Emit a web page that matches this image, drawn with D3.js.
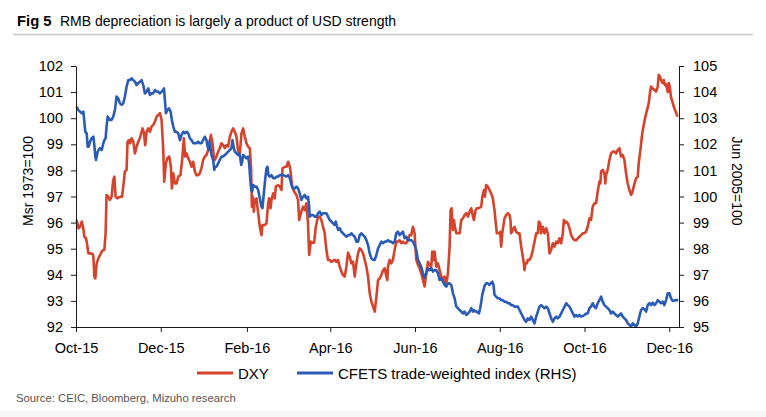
<!DOCTYPE html>
<html><head><meta charset="utf-8">
<script src="https://cdn.jsdelivr.net/npm/d3@7"></script>
<style>
body{margin:0;background:#fff;}
svg{display:block;font-family:"Liberation Sans",Arial,Helvetica,sans-serif;}
</style></head><body>
<svg id="chart" width="766" height="417"></svg>
<script>
// ---------- data ----------
const startDate = "2015-10-01";
const endDate = "2016-12-08";
const xTickDates = ["2015-10-01","2015-12-01","2016-02-01","2016-04-01","2016-06-01","2016-08-01","2016-10-01","2016-12-01"];
const xTickLabels = ["Oct-15","Dec-15","Feb-16","Apr-16","Jun-16","Aug-16","Oct-16","Dec-16"];
const leftTicks = [92,93,94,95,96,97,98,99,100,101,102];
const rightTicks = [95,96,97,98,99,100,101,102,103,104,105];
const seriesNames = ["DXY","CFETS trade-weighted index (RHS)"];
// [days since startDate, value]
const dxy = [
[0.5,96.10],[1.7,95.78],[2.9,95.84],[4.1,96.04],[5.3,95.78],[6.0,95.46],[7.2,95.40],[7.7,95.27],[8.9,94.82],[10.1,94.82],[12.0,94.80],[12.5,94.69],[13.2,93.93],[13.9,93.86],[14.9,94.44],[16.1,94.63],[17.3,94.76],[18.5,94.89],[19.7,94.95],[20.4,94.95],[21.3,95.59],[22.0,97.06],[23.2,96.99],[24.4,96.87],[25.6,96.99],[26.8,97.63],[27.6,97.76],[28.5,96.99],[29.7,96.93],[31.6,96.99],[33.1,96.99],[34.0,97.38],[35.2,97.95],[36.4,98.02],[37.1,99.10],[38.1,99.16],[38.8,99.04],[40.0,99.23],[41.2,99.10],[42.4,98.65],[43.6,98.91],[44.8,99.10],[46.0,99.23],[47.2,99.48],[47.9,99.61],[48.9,99.42],[49.8,98.97],[50.8,99.48],[52.0,99.61],[53.2,99.48],[54.4,99.68],[55.6,99.74],[56.8,99.87],[58.0,100.06],[59.2,100.12],[60.4,100.19],[61.6,99.93],[62.8,98.78],[63.5,97.57],[64.7,98.27],[65.7,98.46],[67.1,98.53],[68.3,98.14],[69.0,97.31],[70.0,97.89],[71.2,97.50],[72.4,97.50],[73.6,97.76],[75.2,97.82],[76.4,98.40],[77.6,99.23],[78.6,98.53],[79.6,98.65],[80.8,98.46],[82.0,98.33],[83.2,98.14],[84.4,98.33],[85.6,97.95],[86.7,97.82],[87.9,97.82],[89.1,97.89],[90.3,98.08],[91.5,98.40],[92.7,98.53],[93.9,98.59],[95.1,98.78],[96.3,99.16],[97.1,99.36],[98.3,99.04],[99.2,98.53],[99.9,98.40],[101.1,98.53],[102.3,98.72],[103.5,98.85],[104.7,99.04],[105.9,98.97],[107.1,98.85],[108.3,98.97],[109.5,98.91],[110.7,99.29],[111.9,99.48],[113.1,99.61],[114.3,99.48],[115.5,99.29],[116.7,98.72],[117.9,98.65],[119.1,99.42],[120.3,99.61],[121.5,99.29],[122.7,99.04],[123.9,98.91],[125.1,98.85],[126.0,98.10],[126.6,96.61],[127.2,96.99],[128.0,96.42],[128.7,96.87],[129.9,96.93],[131.1,96.36],[132.3,95.84],[133.5,95.52],[134.2,95.91],[135.9,95.91],[137.1,95.97],[138.3,96.74],[139.0,96.93],[140.0,96.55],[140.7,96.87],[141.9,97.12],[143.1,96.93],[143.8,97.38],[145.5,97.44],[146.7,97.38],[147.9,97.25],[148.6,98.08],[150.3,98.14],[151.5,98.14],[152.7,98.33],[153.9,98.14],[154.6,97.89],[155.5,97.38],[157.0,97.19],[158.6,97.06],[159.8,96.87],[160.6,96.10],[161.5,96.29],[162.2,96.42],[163.4,96.61],[164.6,96.48],[165.8,96.74],[167.0,95.97],[167.8,94.76],[169.0,95.27],[170.2,95.23],[171.4,95.23],[172.6,95.84],[174.2,96.23],[175.4,96.23],[176.6,96.10],[177.8,95.84],[179.0,95.59],[180.2,94.95],[181.4,94.57],[182.6,94.57],[183.8,94.50],[186.2,94.57],[187.4,94.50],[188.6,94.57],[189.8,94.31],[191.0,94.12],[192.2,93.99],[193.4,93.93],[194.6,94.31],[195.8,94.85],[197.0,94.69],[198.2,94.44],[199.4,94.50],[200.6,93.93],[201.8,94.44],[203.0,94.82],[204.2,95.01],[205.4,94.95],[206.6,94.82],[207.8,94.57],[209.0,94.31],[210.2,93.93],[211.4,93.29],[212.6,92.97],[213.8,92.78],[215.0,92.59],[216.2,93.16],[217.4,93.80],[218.6,93.86],[219.8,93.99],[221.0,94.18],[222.2,94.25],[223.4,93.93],[224.1,93.80],[224.5,94.31],[225.7,94.57],[226.9,94.44],[228.1,94.57],[229.3,94.95],[230.5,95.27],[231.7,95.27],[232.9,95.33],[234.1,95.21],[235.3,95.27],[236.5,95.21],[237.7,95.21],[238.9,95.33],[240.1,95.52],[241.3,95.52],[242.5,95.84],[243.7,95.59],[244.9,94.57],[246.1,94.38],[247.3,94.25],[248.5,94.06],[249.7,93.80],[250.9,93.55],[252.1,94.06],[253.3,94.50],[254.5,94.38],[255.7,94.31],[256.4,94.89],[257.4,94.57],[258.1,94.89],[259.3,94.31],[260.5,94.44],
[261.7,94.18],[262.9,93.93],[264.1,93.80],[265.3,93.93],[266.0,93.67],[267.0,93.80],[267.7,94.06],[268.9,95.08],[269.6,96.48],[270.3,96.55],[271.3,95.72],[272.0,96.10],[272.7,95.84],[273.7,95.59],[274.9,95.59],[276.1,95.59],[277.3,96.10],[278.5,96.16],[279.7,96.29],[280.9,96.36],[282.1,96.23],[283.3,96.42],[284.5,96.55],[285.7,96.23],[286.4,96.10],[287.6,96.48],[288.5,96.55],[290.0,96.55],[291.7,96.61],[292.4,96.99],[293.6,97.25],[294.3,96.99],[295.2,97.44],[296.4,97.38],[297.6,97.25],[298.8,97.12],[300.0,96.93],[301.2,96.48],[301.9,96.10],[302.9,95.59],[304.4,95.59],[305.3,95.65],[306.0,95.08],[306.8,95.59],[308.4,96.16],[309.6,96.29],[310.8,96.36],[312.0,96.29],[312.7,96.10],[313.2,95.59],[314.4,95.72],[315.6,95.84],[316.8,95.65],[318.0,95.59],[319.2,95.59],[320.4,95.08],[321.6,94.69],[322.3,94.44],[322.8,94.18],[323.5,94.44],[324.5,94.44],[325.2,94.57],[326.4,94.57],[327.6,94.69],[328.8,94.95],[330.0,95.27],[331.2,95.59],[332.4,95.59],[333.1,96.04],[334.1,95.97],[334.8,95.59],[336.0,95.84],[337.2,95.59],[338.4,95.78],[339.6,95.59],[340.8,94.82],[342.0,94.95],[343.2,95.21],[344.4,95.08],[345.6,95.27],[346.8,95.21],[348.0,95.40],[349.2,95.21],[350.4,95.59],[351.1,96.10],[351.8,95.97],[352.8,96.04],[354.0,95.97],[355.2,95.78],[356.4,95.52],[357.6,95.40],[358.8,95.33],[360.0,95.33],[361.2,95.40],[362.3,95.46],[363.5,95.52],[364.7,95.59],[365.9,95.59],[367.1,95.65],[368.3,95.84],[369.5,96.16],[370.7,96.10],[371.9,96.61],[373.1,96.74],[374.3,96.74],[375.5,97.19],[376.7,97.57],[377.4,97.50],[377.9,97.95],[379.1,98.02],[380.3,97.89],[381.0,97.50],[381.5,97.82],[382.7,98.02],[383.9,98.40],[385.1,98.65],[386.3,98.72],[387.5,98.72],[388.7,98.65],[389.9,98.78],[391.1,98.85],[392.3,98.53],[393.5,98.59],[394.7,98.40],[395.9,97.89],[397.1,97.50],[398.3,97.25],[399.5,97.06],[400.2,97.12],[401.4,97.38],[403.1,97.70],[404.3,97.76],[405.0,98.27],[406.2,98.78],[407.4,99.36],[408.6,99.74],[409.8,100.06],[411.0,100.31],[412.2,100.57],[413.2,101.02],[413.9,101.21],[415.1,101.14],[416.3,101.08],[417.5,101.02],[418.7,101.21],[419.4,101.66],[420.3,101.59],[421.1,101.46],[422.3,101.34],[423.0,101.46],[423.9,101.27],[424.7,101.30],[425.9,101.00],[426.6,101.35],[427.4,101.20],[428.2,100.82],[430.6,100.39],[433.0,100.06]
];
const cfets = [
[0.5,103.44],[1.7,103.31],[2.9,103.25],[4.1,103.19],[5.3,103.25],[6.0,102.87],[6.7,102.48],[7.7,102.42],[8.4,101.91],[9.1,101.91],[10.1,102.10],[11.3,102.23],[12.5,102.29],[13.2,101.97],[13.9,101.53],[14.4,101.40],[15.3,101.65],[16.1,101.78],[17.3,101.85],[18.5,101.78],[19.7,102.04],[20.4,102.16],[21.3,102.23],[22.0,102.68],[22.8,103.06],[23.7,102.99],[24.4,102.93],[25.6,102.93],[26.8,103.06],[28.0,103.31],[29.2,103.83],[30.4,103.76],[31.6,103.57],[32.8,103.51],[34.0,103.57],[35.2,103.83],[36.4,104.21],[37.6,104.46],[38.8,104.46],[40.0,104.53],[41.2,104.46],[42.4,104.40],[43.6,104.27],[44.8,104.34],[46.0,104.40],[47.2,104.46],[48.4,104.27],[49.6,103.95],[50.8,104.02],[52.0,104.14],[53.2,103.89],[54.4,103.95],[55.6,103.95],[56.8,104.08],[58.0,104.02],[59.2,104.02],[60.4,103.95],[61.6,104.02],[62.8,104.08],[63.3,104.14],[64.2,103.57],[64.7,103.19],[65.7,103.31],[66.9,103.38],[68.1,103.25],[69.0,102.93],[70.0,102.68],[71.2,102.48],[72.4,102.48],[73.6,102.42],[74.8,102.16],[76.0,102.36],[77.2,102.48],[78.4,102.42],[79.6,102.48],[80.8,102.42],[82.0,102.23],[83.2,102.16],[84.4,102.04],[85.6,102.04],[86.7,102.04],[87.9,102.10],[89.1,102.04],[90.3,102.04],[91.5,102.16],[92.7,102.29],[93.9,102.16],[94.7,101.91],[95.6,101.78],[96.3,102.10],[97.5,101.59],[98.7,101.40],[99.5,101.02],[100.2,101.14],[101.1,101.14],[102.3,101.27],[103.5,101.40],[104.7,101.53],[105.9,101.53],[107.1,101.59],[108.3,101.65],[109.5,101.72],[110.7,101.78],[111.9,101.85],[112.6,102.16],[113.6,101.85],[114.3,101.72],[115.5,101.65],[116.7,101.59],[117.4,101.65],[118.1,101.53],[118.9,101.21],[119.6,101.34],[120.3,101.59],[121.5,101.53],[122.7,101.46],[123.9,101.53],[124.6,101.27],[125.3,100.76],[126.1,100.25],[126.8,100.19],[127.5,100.44],[128.7,100.38],[129.9,100.38],[131.1,100.25],[132.3,99.93],[133.5,99.61],[134.2,99.55],[135.2,100.12],[136.1,100.63],[137.1,101.08],[137.8,101.14],[138.5,100.82],[139.5,100.76],[140.7,100.82],[141.9,100.70],[143.1,100.70],[144.3,100.76],[145.5,100.76],[146.7,100.82],[147.9,100.82],[149.1,100.82],[150.3,100.79],[151.5,100.76],[152.7,100.82],[153.9,100.70],[155.1,100.44],[156.3,100.31],[157.5,100.31],[158.6,100.38],[159.8,100.31],[161.0,100.12],[162.2,99.87],[163.4,99.99],[164.6,100.06],[165.8,99.93],[167.0,99.99],[167.8,99.61],[168.2,99.23],[169.4,99.29],[170.6,99.29],[171.8,99.23],[173.0,99.23],[174.2,99.36],[175.4,99.42],[176.6,99.29],[177.8,99.36],[179.0,99.36],[180.2,99.36],[181.4,99.23],[182.6,99.10],[183.8,99.04],[185.0,98.97],[186.2,98.91],[186.9,99.04],[187.9,98.84],[188.8,98.72],[189.8,98.78],[191.0,98.65],[192.2,98.59],[193.4,98.52],[194.6,98.46],[195.8,98.52],[197.0,98.52],[198.2,98.59],[199.4,98.52],[200.6,98.46],[201.8,98.27],[203.0,98.27],[204.2,98.52],[205.4,98.59],[206.6,98.52],[207.8,98.46],[209.0,98.33],[210.2,98.14],[211.4,97.82],[212.6,97.63],[213.8,97.57],[215.0,97.57],[216.2,97.76],[217.4,98.01],[218.6,98.14],[219.8,98.27],[221.0,98.21],[222.2,98.27],[223.4,98.27],[224.5,98.33],[225.7,98.27],[226.9,98.27],[228.1,98.21],[229.3,98.27],[230.5,98.59],[231.7,98.65],[232.9,98.52],[234.1,98.59],[235.3,98.65],[236.5,98.40],[237.7,98.46],[238.9,98.33],[240.1,98.33],[241.3,98.33],[242.5,98.27],[243.7,98.14],[244.9,97.95],[246.1,97.57],[247.3,97.44],[248.5,97.31],[249.7,97.06],[250.9,96.88],[252.1,97.06],[253.3,97.25],[254.5,97.18],[255.7,97.25],[256.9,97.12],[258.1,97.18],[259.3,97.18],[260.5,97.06],
[261.7,96.80],[262.9,96.86],[264.1,96.74],[265.3,96.61],[266.5,96.55],[267.7,96.67],[268.9,96.67],[270.1,96.61],[271.3,96.29],[272.5,96.10],[273.7,95.78],[274.9,95.72],[276.1,95.65],[277.3,95.59],[278.5,95.52],[279.7,95.59],[280.9,95.46],[282.1,95.52],[283.3,95.59],[284.5,95.72],[285.7,95.59],[286.4,95.65],[287.6,95.59],[288.5,95.59],[290.0,95.52],[290.9,95.72],[291.7,95.97],[292.4,96.23],[293.6,96.48],[294.3,96.61],[295.2,96.67],[296.4,96.67],[297.6,96.61],[298.8,96.70],[299.6,96.74],[300.5,96.61],[301.2,96.23],[302.4,96.16],[303.6,96.10],[304.8,96.10],[306.0,96.03],[307.2,96.03],[308.4,95.97],[309.6,95.97],[310.8,95.91],[312.0,95.91],[313.2,95.84],[314.4,95.84],[315.6,95.78],[316.8,95.78],[318.0,95.78],[319.2,95.65],[320.4,95.52],[321.6,95.40],[322.8,95.27],[324.0,95.20],[325.2,95.33],[326.4,95.27],[327.6,95.40],[328.8,95.27],[330.0,95.14],[331.2,95.40],[332.4,95.59],[333.6,95.78],[334.8,95.84],[336.0,95.78],[337.2,95.72],[338.4,95.78],[339.6,95.72],[340.8,95.52],[342.0,95.33],[343.2,95.20],[344.4,95.33],[345.6,95.40],[346.8,95.33],[348.0,95.40],[349.2,95.52],[350.4,95.65],[351.6,95.78],[352.8,95.91],[354.0,95.84],[355.2,95.78],[356.4,95.65],[357.6,95.52],[358.8,95.40],[360.0,95.46],[361.2,95.40],[362.3,95.46],[363.5,95.40],[364.7,95.42],[365.9,95.46],[367.1,95.52],[368.3,95.52],[369.5,95.72],[370.7,95.78],[371.9,95.91],[373.1,95.78],[374.3,95.72],[375.5,95.91],[376.7,96.03],[377.9,96.16],[379.1,95.97],[380.3,95.84],[381.5,95.78],[382.7,95.72],[383.9,95.65],[385.1,95.52],[386.3,95.59],[387.5,95.52],[388.7,95.46],[389.9,95.40],[391.1,95.46],[392.3,95.52],[393.5,95.40],[394.7,95.33],[395.9,95.27],[397.1,95.14],[398.3,95.08],[399.5,95.01],[400.7,95.14],[401.9,95.08],[403.1,95.01],[404.3,95.14],[405.5,95.40],[406.7,95.65],[407.9,95.72],[409.1,95.68],[410.3,95.59],[411.5,95.84],[412.7,95.91],[413.9,95.84],[415.1,95.93],[416.3,95.84],[417.5,95.91],[418.7,96.03],[419.9,95.97],[421.1,95.91],[422.3,95.97],[423.5,95.84],[424.7,96.03],[425.9,96.29],[427.1,96.29],[428.2,96.11],[429.4,96.00],[431.8,96.03],[433.5,96.03]
];

// ---------- drawing ----------
const svg = d3.select("#chart");
const W = 766, H = 417;
const margin = {left: 76, right: 87, top: 66, bottom: 90};
const plotL = margin.left, plotR = W - margin.right, plotT = margin.top, plotB = H - margin.bottom;
const parse = d3.utcParse("%Y-%m-%d");
const t0 = parse(startDate);
const toDate = d => new Date(t0.getTime() + d * 864e5);

const x = d3.scaleUtc().domain([t0, parse(endDate)]).range([plotL, plotR]);
const yL = d3.scaleLinear().domain([92, 102]).range([plotB, plotT]);
const yR = d3.scaleLinear().domain([95, 105]).range([plotB, plotT]);

const red = "#d6432c", blue = "#2a5cb7", axisCol = "#1a1a1a";
const font = "14.5px";

// background bits
svg.append("rect").attr("x",0).attr("y",0).attr("width",W).attr("height",H).attr("fill","#fff");
svg.append("rect").attr("x",0).attr("y",411).attr("width",W).attr("height",6).attr("fill","#f6f6f6");

// title
const title = svg.append("text").attr("x",17).attr("y",26).attr("font-size","14px").attr("fill","#000");
title.append("tspan").attr("font-weight","bold").attr("font-size","14.8px").text("Fig 5");
title.append("tspan").attr("x",60).text("RMB depreciation is largely a product of USD strength");
svg.append("line").attr("x1",13).attr("x2",753).attr("y1",34.5).attr("y2",34.5).attr("stroke","#d4d4d4").attr("stroke-width",2);

// lines
const lineL = d3.line().x(d => x(toDate(d[0]))).y(d => yL(d[1]));
const lineR = d3.line().x(d => x(toDate(d[0]))).y(d => yR(d[1]));
svg.append("path").datum(dxy).attr("d", lineL).attr("fill","none").attr("stroke",red).attr("stroke-width",2.6).attr("stroke-linejoin","round");
svg.append("path").datum(cfets).attr("d", lineR).attr("fill","none").attr("stroke",blue).attr("stroke-width",2.6).attr("stroke-linejoin","round");

// axes
function styleAxis(g){
  g.selectAll("path.domain").attr("stroke",axisCol).attr("stroke-width",1);
  g.selectAll(".tick line").attr("stroke",axisCol);
  g.selectAll("text").attr("font-size",font).attr("fill","#000").attr("font-family",null);
}
const gL = svg.append("g").attr("transform",`translate(${plotL},0)`)
  .call(d3.axisLeft(yL).tickValues(leftTicks).tickSize(5).tickSizeOuter(0).tickPadding(8).tickFormat(d3.format("d")));
styleAxis(gL);
const gR = svg.append("g").attr("transform",`translate(${plotR},0)`)
  .call(d3.axisRight(yR).tickValues(rightTicks).tickSize(5).tickSizeOuter(0).tickPadding(9).tickFormat(d3.format("d")));
styleAxis(gR);
const gB = svg.append("g").attr("transform",`translate(0,${plotB})`)
  .call(d3.axisBottom(x).tickValues(xTickDates.map(parse)).tickSize(5).tickSizeOuter(0)
    .tickFormat((d,i) => xTickLabels[i]));
styleAxis(gB);
gB.selectAll("text").attr("dy",null).attr("y",26);
svg.selectAll("g").attr("font-family",null);

// axis titles
svg.append("text").attr("transform","translate(33,181) rotate(-90)").attr("text-anchor","middle")
  .attr("font-size","14px").text("Msr 1973=100");
svg.append("text").attr("transform","translate(732,181) rotate(90)").attr("text-anchor","middle")
  .attr("font-size","14px").text("Jun 2005=100");

// legend
const legend = [{name: seriesNames[0], color: red, x: 197}, {name: seriesNames[1], color: blue, x: 297}];
legend.forEach(l => {
  svg.append("line").attr("x1",l.x).attr("x2",l.x+36).attr("y1",373).attr("y2",373).attr("stroke",l.color).attr("stroke-width",3);
  svg.append("text").attr("x",l.x+41).attr("y",379).attr("font-size","15px").text(l.name);
});

// source
svg.append("text").attr("x",16).attr("y",402).attr("font-size","11.3px").attr("fill","#555")
  .text("Source: CEIC, Bloomberg, Mizuho research");
</script>
</body></html>
